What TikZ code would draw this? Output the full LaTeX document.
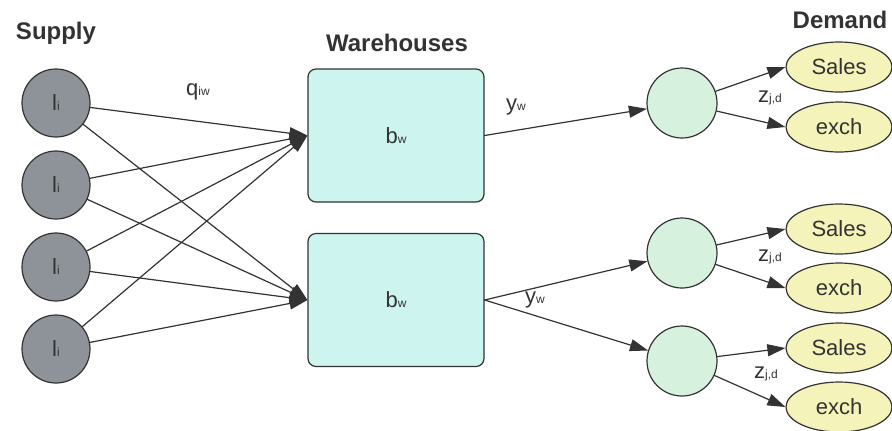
\documentclass[tikz,border=0pt]{standalone}
\usepackage{fontspec}
\setmainfont{Liberation Sans}
\usetikzlibrary{arrows.meta,shapes.geometric}
\definecolor{supplygray}{HTML}{8E9399}
\definecolor{boxcyan}{HTML}{CDF4EE}
\definecolor{hubgreen}{HTML}{D6F2DE}
\definecolor{demandyel}{HTML}{F4F3B9}
\definecolor{inkgray}{HTML}{333333}
\newcommand{\lowsub}[1]{{\fontsize{6}{7}\selectfont #1}}

\begin{document}
\begin{tikzpicture}[x=0.5pt,y=-0.5pt,line cap=round,line join=round,
  supply/.style={circle,draw=inkgray,fill=supplygray,minimum size=34pt,inner sep=0pt,line width=0.6pt,font=\fontsize{11}{13}\selectfont,text=inkgray},
  ware/.style={rectangle,rounded corners=4pt,draw=inkgray,fill=boxcyan,minimum width=88pt,minimum height=66.5pt,line width=0.6pt,font=\fontsize{11}{13}\selectfont,text=inkgray},
  hub/.style={circle,draw=inkgray,fill=hubgreen,minimum size=35pt,inner sep=0pt,line width=0.6pt},
  demand/.style={ellipse,draw=inkgray,fill=demandyel,minimum width=53pt,minimum height=25pt,inner sep=0pt,line width=0.6pt,font=\fontsize{11}{13}\selectfont,text=inkgray},
  heading/.style={font=\bfseries\fontsize{12}{14}\selectfont,text=inkgray},
  flowlabel/.style={font=\fontsize{11}{13}\selectfont,text=inkgray,inner sep=1pt},
  flow/.style={draw=inkgray,line width=0.6pt,-{Triangle[length=9pt,width=6pt]}}]
\path[use as bounding box] (0,0) rectangle (892,430);
% headings
\node[heading] (supplyhead) at (56,33) {Supply};
\node[heading] (warehead) at (397,43) {Warehouses};
\node[heading] (demandhead) at (840,20) {Demand};
% supply
\node[supply] (supply1) at (56,103) {l\lowsub{i}};
\node[supply] (supply2) at (56,185) {l\lowsub{i}};
\node[supply] (supply3) at (56,267) {l\lowsub{i}};
\node[supply] (supply4) at (56,349) {l\lowsub{i}};
% warehouses
\node[ware] (ware1) at (396,135.5) {b\lowsub{w}};
\node[ware] (ware2) at (396,300) {b\lowsub{w}};
% hubs
\node[hub] (hub1) at (682,103) {};
\node[hub] (hub2) at (682,253) {};
\node[hub] (hub3) at (682,361) {};
% demand
\node[demand] (sales1) at (839,67) {Sales};
\node[demand] (exch1) at (839,127) {exch};
\node[demand] (sales2) at (839,229) {Sales};
\node[demand] (exch2) at (839,288) {exch};
\node[demand] (sales3) at (839,348) {Sales};
\node[demand] (exch3) at (839,407) {exch};
% supply to warehouses
\draw[flow] (supply1) -- (ware1.west);
\draw[flow] (supply2) -- (ware1.west);
\draw[flow] (supply3) -- (ware1.west);
\draw[flow] (supply4) -- (ware1.west);
\draw[flow] (supply1) -- (ware2.west);
\draw[flow] (supply2) -- (ware2.west);
\draw[flow] (supply3) -- (ware2.west);
\draw[flow] (supply4) -- (ware2.west);
% warehouses to hubs
\draw[flow] (ware1.east) -- (hub1);
\draw[flow] (ware2.east) -- (hub2);
\draw[flow] (ware2.east) -- (hub3);
% hubs to demand
\draw[flow] (hub1) -- (sales1.west);
\draw[flow] (hub1) -- (exch1.west);
\draw[flow] (hub2) -- (sales2.west);
\draw[flow] (hub2) -- (exch2.west);
\draw[flow] (hub3) -- (sales3.west);
\draw[flow] (hub3) -- (exch3.west);
% labels
\node[flowlabel] (qlabel) at (198,92) {q\lowsub{iw}};
\node[flowlabel] (ylabel1) at (516,107) {y\lowsub{w}};
\node[flowlabel] (ylabel2) at (535,300) {y\lowsub{w}};
\node[flowlabel] (zlabel1) at (770,98) {z\lowsub{j,d}};
\node[flowlabel] (zlabel2) at (770,257) {z\lowsub{j,d}};
\node[flowlabel] (zlabel3) at (766,374) {z\lowsub{j,d}};
\end{tikzpicture}
\end{document}
